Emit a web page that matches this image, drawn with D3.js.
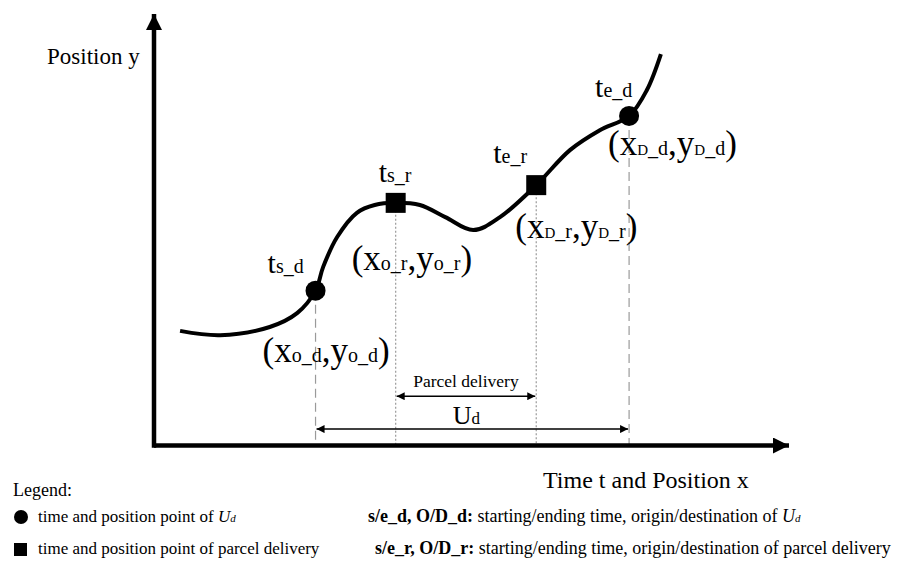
<!DOCTYPE html>
<html>
<head>
<meta charset="utf-8">
<style>
  body { margin: 0; background: #fff; }
  text { font-family: "Liberation Serif", "DejaVu Serif", serif; fill: #000; }
</style>
</head>
<body>
<script src="https://d3js.org/d3.v7.min.js"></script>
<script>
// trajectory of the vehicle (arbitrary units, 0..100 on both axes)
var curveX = [4.1, 10.4, 18.2, 22.5, 25.4, 26.6, 28.8, 31.9, 34.7, 38.0, 41.8, 45.8, 50.2, 54.4, 60.1, 65.4, 70.1, 74.7, 77.5, 79.7];
var curveY = [26.5, 25.5, 27.4, 30.6, 35.8, 41.3, 48.2, 53.8, 55.6, 56.1, 55.6, 52.8, 49.8, 52.8, 60.2, 68.3, 72.9, 76.2, 82.2, 90.5];

// event points on the trajectory
var eventSub = ["s_d", "s_r", "e_r", "e_d"];
var eventCoordSub = ["o_d", "o_r", "D_r", "D_d"];
var eventShape = ["circle", "square", "square", "circle"];
var eventX = [25.4, 38.0, 60.1, 74.7];
var eventY = [35.8, 56.1, 60.2, 76.2];

// intervals shown under the curve
var spanLabel = ["Parcel delivery", "U"];
var spanLabelSub = ["", "d"];
var spanFrom = [38.0, 25.4];
var spanTo = [60.1, 74.7];
var spanLevel = [11.4, 3.8];

var width = 900, height = 561;
var svg = d3.select("body").append("svg")
    .attr("width", width)
    .attr("height", height);

var x = d3.scaleLinear().domain([0, 100]).range([154, 790]);
var y = d3.scaleLinear().domain([0, 100]).range([445.5, 13]);

var defs = svg.append("defs");
defs.append("marker")
    .attr("id", "bigArrow")
    .attr("viewBox", "0 0 10 10")
    .attr("refX", 10).attr("refY", 5)
    .attr("markerUnits", "userSpaceOnUse")
    .attr("markerWidth", 22).attr("markerHeight", 16)
    .attr("orient", "auto")
  .append("path").attr("d", "M0,0L10,5L0,10Z").attr("fill", "#000");
defs.append("marker")
    .attr("id", "smallArrow")
    .attr("viewBox", "0 0 10 10")
    .attr("refX", 10).attr("refY", 5)
    .attr("markerUnits", "userSpaceOnUse")
    .attr("markerWidth", 11).attr("markerHeight", 8)
    .attr("orient", "auto-start-reverse")
  .append("path").attr("d", "M0,0L10,5L0,10Z").attr("fill", "#000");

// guide lines from the points down to the time axis
svg.selectAll("line.guide")
    .data(eventX)
    .enter().append("line")
    .attr("class", "guide")
    .attr("x1", function(d) { return x(d); })
    .attr("x2", function(d) { return x(d); })
    .attr("y1", function(d, i) { return y(eventY[i]); })
    .attr("y2", y(0))
    .attr("stroke", "#9a9a9a")
    .attr("stroke-width", 1.2)
    .attr("stroke-dasharray", function(d, i) { return eventShape[i] == "circle" ? "9,5" : "2,2"; });

// axes
svg.append("line")
    .attr("x1", x(0)).attr("x2", x(100) - 1)
    .attr("y1", y(0)).attr("y2", y(0))
    .attr("stroke", "#000").attr("stroke-width", 4.5)
    .attr("marker-end", "url(#bigArrow)");
svg.append("line")
    .attr("x1", x(0)).attr("x2", x(0))
    .attr("y1", y(0) + 2.2).attr("y2", y(100) + 1)
    .attr("stroke", "#000").attr("stroke-width", 4.5)
    .attr("marker-end", "url(#bigArrow)");

svg.append("text").attr("x", 47).attr("y", 64)
    .attr("font-size", 23).text("Position y");
svg.append("text").attr("x", 543).attr("y", 488)
    .attr("font-size", 24).text("Time t and Position x");

// trajectory
var line = d3.line()
    .x(function(d) { return x(d[0]); })
    .y(function(d) { return y(d[1]); })
    .curve(d3.curveCatmullRom.alpha(0.5));
svg.append("path")
    .datum(d3.zip(curveX, curveY))
    .attr("d", line)
    .attr("fill", "none")
    .attr("stroke", "#000")
    .attr("stroke-width", 4);

// markers
eventX.forEach(function(ex, i) {
    if (eventShape[i] == "circle") {
        svg.append("circle").attr("cx", x(ex)).attr("cy", y(eventY[i])).attr("r", 10);
    } else {
        svg.append("rect").attr("x", x(ex) - 10).attr("y", y(eventY[i]) - 10)
            .attr("width", 20).attr("height", 20);
    }
});

// label offsets (px) from each point
var tOff = [[-48, -18], [-17, -21], [-43, -22], [-34, -19]];
var cOff = [[-53, 71], [-44, 67], [-21, 53], [-21, 39]];

// subscript: capitals a bit smaller, like small caps
function addSub(sel, s) {
    s.split("").forEach(function(ch) {
        sel.append("tspan")
            .attr("font-size", /[A-Z]/.test(ch) ? 15 : 20)
            .text(ch);
    });
}

eventX.forEach(function(ex, i) {
    var px = x(ex), py = y(eventY[i]);
    var t = svg.append("text").attr("x", px + tOff[i][0]).attr("y", py + tOff[i][1]);
    t.append("tspan").attr("font-size", 30).text("t");
    t.append("tspan").attr("font-size", 20).text(eventSub[i]);

    var c = svg.append("text").attr("x", px + cOff[i][0]).attr("y", py + cOff[i][1]);
    c.append("tspan").attr("font-size", 35).text("(x");
    addSub(c, eventCoordSub[i]);
    c.append("tspan").attr("font-size", 35).text(",y");
    addSub(c, eventCoordSub[i]);
    c.append("tspan").attr("font-size", 35).text(")");
});

// interval arrows
spanFrom.forEach(function(f, i) {
    var ly = y(spanLevel[i]);
    svg.append("line")
        .attr("x1", x(f) + 1).attr("x2", x(spanTo[i]) - 1)
        .attr("y1", ly).attr("y2", ly)
        .attr("stroke", "#000").attr("stroke-width", 1.5)
        .attr("marker-start", "url(#smallArrow)")
        .attr("marker-end", "url(#smallArrow)");
    var lt = svg.append("text")
        .attr("x", (x(f) + x(spanTo[i])) / 2 - (i == 0 ? 0 : 6))
        .attr("y", ly - (i == 0 ? 9 : 5))
        .attr("text-anchor", "middle");
    if (spanLabelSub[i]) {
        lt.append("tspan").attr("font-size", 26).text(spanLabel[i]);
        lt.append("tspan").attr("font-size", 17).text(spanLabelSub[i]);
    } else {
        lt.attr("font-size", 17.5).text(spanLabel[i]);
    }
});

// legend
var lg = svg.append("g").attr("font-size", 17);
lg.append("text").attr("x", 13).attr("y", 496).attr("font-size", 18).text("Legend:");
lg.append("circle").attr("cx", 21).attr("cy", 517).attr("r", 7);
lg.append("rect").attr("x", 14).attr("y", 543).attr("width", 13).attr("height", 13);

var r1 = lg.append("text").attr("x", 38).attr("y", 522);
r1.append("tspan").text("time and position point of ");
r1.append("tspan").attr("font-style", "italic").text("U");
r1.append("tspan").attr("font-style", "italic").attr("font-size", 11).text("d");
lg.append("text").attr("x", 38).attr("y", 554).text("time and position point of parcel delivery");

// abbreviations, bold key followed by plain description
var r3 = lg.append("text").attr("x", 368).attr("y", 522).attr("font-size", 18);
r3.append("tspan").attr("font-weight", "bold").text("s/e_d, O/D_d: ");
r3.append("tspan").text("starting/ending time, origin/destination of ");
r3.append("tspan").attr("font-style", "italic").text("U");
r3.append("tspan").attr("font-style", "italic").attr("font-size", 11).text("d");

var r4 = lg.append("text").attr("x", 375).attr("y", 554).attr("font-size", 18);
r4.append("tspan").attr("font-weight", "bold").text("s/e_r, O/D_r: ");
r4.append("tspan").text("starting/ending time, origin/destination of parcel delivery");
</script>
</body>
</html>
